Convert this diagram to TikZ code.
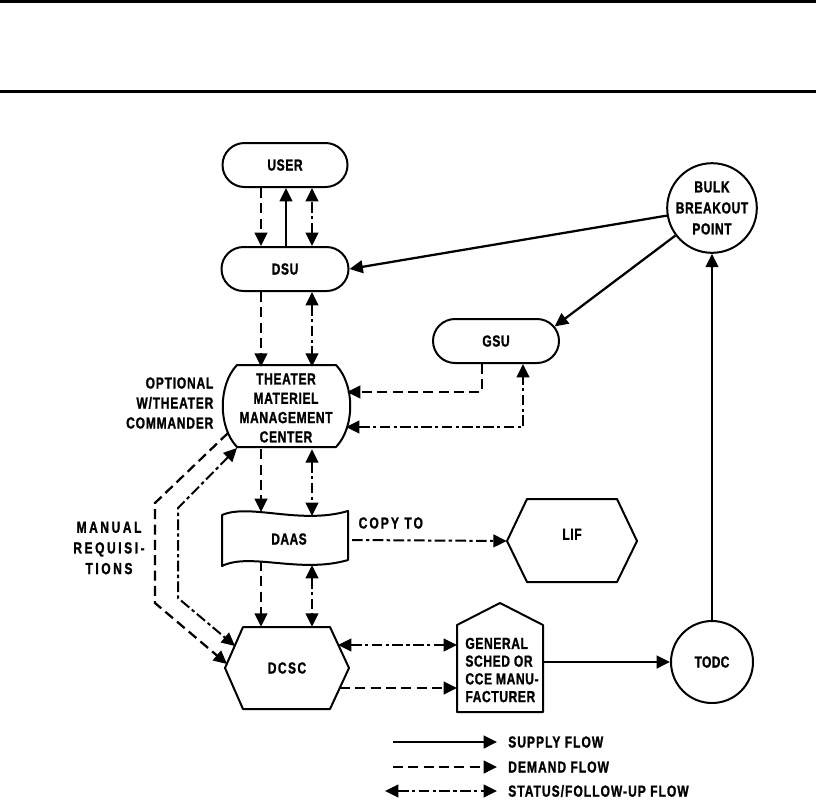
\documentclass[tikz,border=0pt]{standalone}
\usepackage{fontspec}
\usetikzlibrary{arrows.meta,shapes.misc,calc}
\newfontfamily\lblfont{Liberation Sans}[FakeStretch=0.75,FakeBold=1.2]
\newcommand\pxu{0.75pt}
\tikzset{
  lblx/.style 2 args={font={\lblfont\bfseries\addfontfeature{LetterSpace=#2}\fontsize{12pt}{#1}\selectfont}, align=center},
  lbl/.style={lblx={14.5pt}{4}},
  box/.style={draw, line width=1.5pt, line join=round},
  rr/.style={rounded rectangle, box, minimum height=44*\pxu, inner sep=0pt, lbl},
  circ/.style={circle, box, minimum size=82*\pxu, inner sep=0pt},
  ln/.style={line width=1.7pt},
  sup/.style={ln, -{Triangle[length=10pt,width=9.5pt]}},
  dem/.style={ln, dash pattern=on 7.5pt off 4pt, -{Triangle[length=10pt,width=9.5pt]}},
  staline/.style={line width=1.5pt, dash pattern=on 8pt off 2.5pt on 2.5pt off 2.5pt},
  sta/.style={staline, {Triangle[length=10pt,width=9.5pt]}-{Triangle[length=10pt,width=9.5pt]}},
  staone/.style={staline, -{Triangle[length=10pt,width=9.5pt]}},
}
\begin{document}
\begin{tikzpicture}[x=0.75pt,y=-0.75pt]
\useasboundingbox (0,0) rectangle (816,801);
\fill[white] (0,0) rectangle (816,801);
% header rules
\fill[black] (0,0) rectangle (816,2.5);
\fill[black] (0,89.5) rectangle (816,92.5);

% column coordinates
\coordinate (cA) at (261,0);
\coordinate (cB) at (286,0);
\coordinate (cC) at (312,0);
\coordinate (gA) at (482,0);
\coordinate (gB) at (523,0);

% nodes
\node[rr, minimum width=125*\pxu] (user) at (285,165) {USER};
\node[rr, minimum width=127*\pxu] (dsu) at (285,269) {DSU};
\node[rr, minimum width=126*\pxu] (gsu) at (496,341) {GSU};
\node[circ, lblx={15.75pt}{4}] (bulk) at (712,208) {BULK\\BREAKOUT\\POINT};
\node[circ, lblx={14.5pt}{2}] (todc) at (712,662) {TODC};

% TMMC
\draw[box] (237,365) -- (336,365) .. controls (355,385) and (355,427) .. (336,447)
  -- (237,447) .. controls (218,427) and (218,385) .. (237,365) -- cycle;
\node[lbl, minimum width=126*\pxu, minimum height=82*\pxu, inner sep=0pt] (tmmc) at (286,408)
  {THEATER\\MATERIEL\\MANAGEMENT\\CENTER};

% DAAS
\draw[box] (222,515) .. controls (250,503) and (300,525) .. (348,511) -- (348,560)
  .. controls (300,574) and (250,552) .. (222,566) -- cycle;
\node[lblx={14.5pt}{3}] (daas) at (289,539) {DAAS};
\coordinate (daasTA) at (261,512);
\coordinate (daasTC) at (312,516);
\coordinate (daasBA) at (261,561);
\coordinate (daasBC) at (312,565);
\coordinate (daasR) at (352,540);

% LIF
\draw[box] (507,541) -- (527,499) -- (617,499) -- (637,541) -- (617,582) -- (527,582) -- cycle;
\node[lbl, minimum width=130*\pxu, minimum height=83*\pxu, inner sep=0pt] (lif) at (572,541) {\raisebox{10pt}{LIF}};

% DCSC
\draw[box] (225,668) -- (243,627) -- (330,627) -- (349,668) -- (330,709) -- (243,709) -- cycle;
\node[lblx={14.5pt}{9}, minimum width=124*\pxu, minimum height=82*\pxu, inner sep=0pt] (dcsc) at (287,668) {DCSC};

% GENERAL
\node[lblx={13.3pt}{4}, align=left, minimum width=86*\pxu, minimum height=87*\pxu, inner sep=0pt] (gen) at (502,670)
  {GENERAL\\SCHED OR\\CCE MANU-\\FACTURER};
\draw[box] (457,712) -- (457,625) -- (500,603) -- (543,625) -- (543,712) -- cycle;
\coordinate (genL) at (457,0);
\coordinate (genR) at (543,0);

% labels
\node[lblx={15pt}{5}, align=right, anchor=east] (opt) at (218,403) {OPTIONAL\\W/THEATER\\COMMANDER};
\node[lblx={15.5pt}{16}] (man) at (109,548) {MANUAL\\REQUISI-\\TIONS};
\node[lblx={14.5pt}{13}, anchor=west] (copy) at (354,523) {COPY TO};

% USER - DSU
\draw[dem] (cA |- user.south) -- (cA |- dsu.north);
\draw[sup] (cB |- dsu.north) -- (cB |- user.south);
\draw[sta] (cC |- dsu.north) -- (cC |- user.south);
% DSU - TMMC
\draw[dem] (cA |- dsu.south) -- (cA |- tmmc.north);
\draw[sta] (cC |- dsu.south) -- (cC |- tmmc.north);
% TMMC - DAAS
\draw[dem] (cA |- tmmc.south) -- (daasTA);
\draw[sta] (cC |- tmmc.south) -- (daasTC);
% DAAS - DCSC
\draw[dem] (daasBA) -- (cA |- dcsc.north);
\draw[sta] (daasBC) -- (cC |- dcsc.north);
% GSU - TMMC
\coordinate (tR1) at (347,392);
\coordinate (tR2) at (346,427);
\draw[dem] (gA |- gsu.south) |- (tR1);
\draw[sta] (tR2) -| (gB |- gsu.south);
% BULK
\draw[sup] (bulk) -- (dsu.east);
\draw[sup] (bulk) -- (gsu.14);
\draw[sup] (todc.north) -- (bulk.south);
% DAAS - LIF
\draw[staone] (daasR) -- (lif.west);
% DCSC - GENERAL
\coordinate (dR1) at (338,645);
\coordinate (dR2) at (340,688);
\draw[sta] (dR1) -- (genL |- dR1);
\draw[dem] (dR2) -- (genL |- dR2);
\draw[sup] (genR |- todc.west) -- (todc.west);
% manual requisitions
\coordinate (tL1) at (228,433);
\coordinate (tL2) at (237,448);
\coordinate (m1) at (155,503);
\coordinate (m2) at (155,603);
\coordinate (m3) at (178,508);
\coordinate (m4) at (178,598);
\coordinate (dL1) at (227,664);
\coordinate (dL2) at (235,646);
\draw[dem, line join=miter] (tL1) -- (m1) -- (m2) -- (dL1);
\draw[sta, line join=miter] (tL2) -- (m3) -- (m4) -- (dL2);

% legend
\coordinate (lg1s) at (393,742);
\coordinate (lg1e) at (497,742);
\coordinate (lg2s) at (393,767);
\coordinate (lg2e) at (497,767);
\coordinate (lg3s) at (385,791);
\coordinate (lg3e) at (497,791);
\draw[sup] (lg1s) -- (lg1e);
\draw[dem] (lg2s) -- (lg2e);
\draw[sta] (lg3s) -- (lg3e);
\node[lblx={14.5pt}{6.5}, anchor=west, inner sep=0pt] (lt1) at (508,742) {SUPPLY FLOW};
\node[lblx={14.5pt}{6.5}, anchor=west, inner sep=0pt] (lt2) at (508,767) {DEMAND FLOW};
\node[lblx={14.5pt}{6.5}, anchor=west, inner sep=0pt] (lt3) at (508,791) {STATUS/FOLLOW-UP FLOW};
\end{tikzpicture}
\end{document}
